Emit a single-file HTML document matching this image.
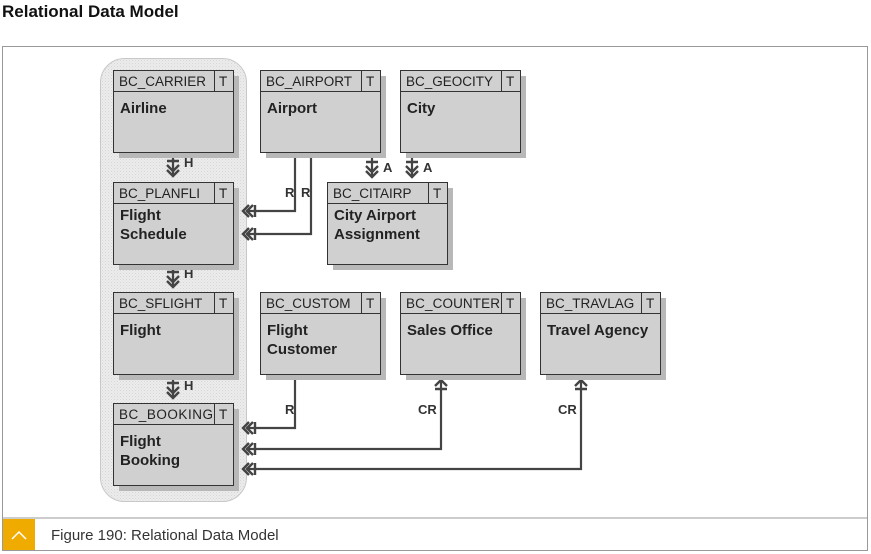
<!DOCTYPE html>
<html><head><meta charset="utf-8"><style>
html,body{margin:0;padding:0;background:#fff;width:871px;height:554px;overflow:hidden}
</style></head><body>
<svg width="871" height="554" xmlns="http://www.w3.org/2000/svg" font-family="Liberation Sans, Arial, sans-serif">
<defs>
<pattern id="hatch" width="3" height="3" patternUnits="userSpaceOnUse">
<rect width="3" height="3" fill="#ececec"/><rect width="1" height="1" fill="#d6d6d6"/><rect x="1.5" y="1.5" width="1" height="1" fill="#dcdcdc"/>
</pattern>
<g id="dl" fill="none" stroke="#444" stroke-width="2.4">
<path d="M7,-6 L1,0 L7,6 M11,-6 L5,0 L11,6 M13,-6 V6"/>
</g>
<g id="dd" fill="none" stroke="#444" stroke-width="2.4">
<path d="M-6,-7 L0,-1 L6,-7 M-6,-12 L0,-6 L6,-12 M-6,-16 H6"/>
</g>
<g id="up" fill="none" stroke="#444" stroke-width="2.4">
<path d="M-6,7 L0,1 L6,7 M-6,10 H6"/>
</g>
</defs>
<text x="2" y="17" font-size="17" font-weight="bold" fill="#111">Relational Data Model</text>
<rect x="2.5" y="46.5" width="865" height="504" fill="#fff" stroke="#999"/>
<line x1="3" y1="518" x2="868" y2="518" stroke="#999"/>
<rect x="3" y="519" width="32" height="31" fill="#f0ab00"/>
<path d="M12,539 L19,532 L26,539" fill="none" stroke="#fff" stroke-width="1.5"/>
<text x="51" y="540" font-size="15" fill="#333">Figure 190: Relational Data Model</text>

<rect x="100.5" y="58.5" width="146" height="443" rx="24" fill="url(#hatch)" stroke="#c8c8c8"/>

<g stroke="#444" stroke-width="2.2" fill="none">
<path d="M173,154 V176 M173,265 V287 M173,376 V398"/>
<path d="M372,154 V177 M412,154 V177"/>
<path d="M295,155 V211 H247 M311,155 V234 H247"/>
<path d="M295,376 V428 H247 M441,381 V449 H247 M581,381 V469 H247"/>
</g>
<use href="#dd" x="173" y="177"/><use href="#dd" x="173" y="288"/><use href="#dd" x="173" y="399"/>
<use href="#dd" x="372" y="178"/><use href="#dd" x="412" y="178"/>
<use href="#dl" x="242" y="211"/><use href="#dl" x="242" y="234"/>
<use href="#dl" x="242" y="428"/><use href="#dl" x="242" y="449"/><use href="#dl" x="242" y="469"/>
<use href="#up" x="441" y="379"/><use href="#up" x="581" y="379"/>

<g font-size="13" font-weight="bold" fill="#333">
<text x="184" y="167">H</text><text x="184" y="278">H</text><text x="184" y="390">H</text>
<text x="383" y="172">A</text><text x="423" y="172">A</text>
<text x="285" y="197">R</text><text x="301" y="197">R</text>
<text x="285" y="414">R</text><text x="418" y="414">CR</text><text x="558" y="414">CR</text>
</g>

<g font-size="13.5" fill="#222">
<g transform="translate(113,70)"><rect x="6" y="6" width="120" height="82" fill="#b8b8b8"/><rect x=".5" y=".5" width="120" height="82" fill="#d0d0d0" stroke="#333"/><line x1="0" y1="21.5" x2="121" y2="21.5" stroke="#333"/><line x1="101.5" y1="0" x2="101.5" y2="21" stroke="#333"/><text x="6" y="16">BC_CARRIER</text><text x="106" y="16">T</text><text x="7" y="43" font-weight="bold" font-size="15">Airline</text></g>
<g transform="translate(260,70)"><rect x="6" y="6" width="120" height="82" fill="#b8b8b8"/><rect x=".5" y=".5" width="120" height="82" fill="#d0d0d0" stroke="#333"/><line x1="0" y1="21.5" x2="121" y2="21.5" stroke="#333"/><line x1="101.5" y1="0" x2="101.5" y2="21" stroke="#333"/><text x="6" y="16">BC_AIRPORT</text><text x="106" y="16">T</text><text x="7" y="43" font-weight="bold" font-size="15">Airport</text></g>
<g transform="translate(400,70)"><rect x="6" y="6" width="120" height="82" fill="#b8b8b8"/><rect x=".5" y=".5" width="120" height="82" fill="#d0d0d0" stroke="#333"/><line x1="0" y1="21.5" x2="121" y2="21.5" stroke="#333"/><line x1="101.5" y1="0" x2="101.5" y2="21" stroke="#333"/><text x="6" y="16">BC_GEOCITY</text><text x="106" y="16">T</text><text x="7" y="43" font-weight="bold" font-size="15">City</text></g>
<g transform="translate(113,182)"><rect x="6" y="6" width="120" height="82" fill="#b8b8b8"/><rect x=".5" y=".5" width="120" height="82" fill="#d0d0d0" stroke="#333"/><line x1="0" y1="21.5" x2="121" y2="21.5" stroke="#333"/><line x1="101.5" y1="0" x2="101.5" y2="21" stroke="#333"/><text x="6" y="16">BC_PLANFLI</text><text x="106" y="16">T</text><text x="7" y="38" font-weight="bold" font-size="15">Flight</text><text x="7" y="57" font-weight="bold" font-size="15">Schedule</text></g>
<g transform="translate(327,182)"><rect x="6" y="6" width="120" height="82" fill="#b8b8b8"/><rect x=".5" y=".5" width="120" height="82" fill="#d0d0d0" stroke="#333"/><line x1="0" y1="21.5" x2="121" y2="21.5" stroke="#333"/><line x1="101.5" y1="0" x2="101.5" y2="21" stroke="#333"/><text x="6" y="16">BC_CITAIRP</text><text x="106" y="16">T</text><text x="7" y="38" font-weight="bold" font-size="15">City Airport</text><text x="7" y="57" font-weight="bold" font-size="15">Assignment</text></g>
<g transform="translate(113,292)"><rect x="6" y="6" width="120" height="82" fill="#b8b8b8"/><rect x=".5" y=".5" width="120" height="82" fill="#d0d0d0" stroke="#333"/><line x1="0" y1="21.5" x2="121" y2="21.5" stroke="#333"/><line x1="101.5" y1="0" x2="101.5" y2="21" stroke="#333"/><text x="6" y="16">BC_SFLIGHT</text><text x="106" y="16">T</text><text x="7" y="43" font-weight="bold" font-size="15">Flight</text></g>
<g transform="translate(260,292)"><rect x="6" y="6" width="120" height="82" fill="#b8b8b8"/><rect x=".5" y=".5" width="120" height="82" fill="#d0d0d0" stroke="#333"/><line x1="0" y1="21.5" x2="121" y2="21.5" stroke="#333"/><line x1="101.5" y1="0" x2="101.5" y2="21" stroke="#333"/><text x="6" y="16">BC_CUSTOM</text><text x="106" y="16">T</text><text x="7" y="43" font-weight="bold" font-size="15">Flight</text><text x="7" y="62" font-weight="bold" font-size="15">Customer</text></g>
<g transform="translate(400,292)"><rect x="6" y="6" width="120" height="82" fill="#b8b8b8"/><rect x=".5" y=".5" width="120" height="82" fill="#d0d0d0" stroke="#333"/><line x1="0" y1="21.5" x2="121" y2="21.5" stroke="#333"/><line x1="101.5" y1="0" x2="101.5" y2="21" stroke="#333"/><text x="6" y="16" textLength="94">BC_COUNTER</text><text x="106" y="16">T</text><text x="7" y="43" font-weight="bold" font-size="15">Sales Office</text></g>
<g transform="translate(540,292)"><rect x="6" y="6" width="120" height="82" fill="#b8b8b8"/><rect x=".5" y=".5" width="120" height="82" fill="#d0d0d0" stroke="#333"/><line x1="0" y1="21.5" x2="121" y2="21.5" stroke="#333"/><line x1="101.5" y1="0" x2="101.5" y2="21" stroke="#333"/><text x="6" y="16">BC_TRAVLAG</text><text x="106" y="16">T</text><text x="7" y="43" font-weight="bold" font-size="15">Travel Agency</text></g>
<g transform="translate(113,403)"><rect x="6" y="6" width="120" height="82" fill="#b8b8b8"/><rect x=".5" y=".5" width="120" height="82" fill="#d0d0d0" stroke="#333"/><line x1="0" y1="21.5" x2="121" y2="21.5" stroke="#333"/><line x1="101.5" y1="0" x2="101.5" y2="21" stroke="#333"/><text x="6" y="16" textLength="94">BC_BOOKING</text><text x="106" y="16">T</text><text x="7" y="43" font-weight="bold" font-size="15">Flight</text><text x="7" y="62" font-weight="bold" font-size="15">Booking</text></g>
</g>
</svg>
</body></html>
